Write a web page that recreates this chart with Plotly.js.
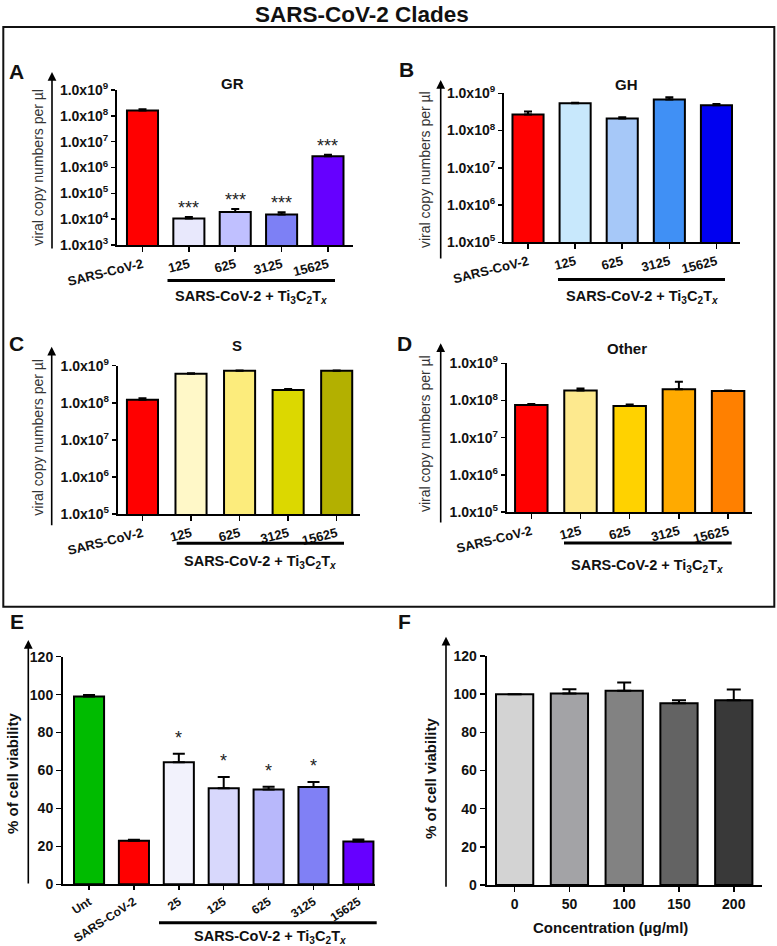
<!DOCTYPE html>
<html><head><meta charset="utf-8">
<script src="https://cdn.plot.ly/plotly-3.0.1.min.js"></script>
<style>html,body{margin:0;padding:0;background:#fff}#chart{width:777px;height:946px}</style>
</head><body><div id="chart"></div>
<script>
// ---------- data ----------
const cladeCategories = ["SARS-CoV-2", "125", "625", "3125", "15625"];
const grValues = [1.6e8, 1.05e4, 1.9e4, 1.5e4, 2.7e6];
const grErrors = [2.0e7, 1.5e3, 5.7e3, 3.4e3, 4.4e5];
const grSignif = ["", "***", "***", "***", "***"];
const ghValues = [2.7e8, 5.4e8, 2.1e8, 6.8e8, 4.8e8];
const ghErrors = [5.4e7, 2.0e7, 1.8e7, 1.0e8, 4.0e7];
const sValues = [1.2e8, 6.1e8, 7.3e8, 2.2e8, 7.3e8];
const sErrors = [1.3e7, 1.5e7, 1.5e7, 1.5e7, 1.5e7];
const otherValues = [7.5e7, 1.85e8, 7.1e7, 2.0e8, 1.8e8];
const otherErrors = [6e6, 2.4e7, 7.5e6, 1.2e8, 5e6];
const viabilityCategories = ["Unt", "SARS-CoV-2", "25", "125", "625", "3125", "15625"];
const viabilityValues = [99, 23, 64.3, 50.6, 50, 51.3, 22.5];
const viabilityErrors = [0.8, 0.5, 4.5, 6.0, 1.4, 2.7, 1.1];
const viabilitySignif = ["", "", "*", "*", "*", "*", ""];
const concCategories = ["0", "50", "100", "150", "200"];
const concValues = [100, 100.3, 101.8, 95.2, 96.8];
const concErrors = [0, 2.3, 4.3, 1.6, 5.6];

const logTickVals = [1e3, 1e4, 1e5, 1e6, 1e7, 1e8, 1e9];
const logTickText = ["1.0x10<sup>3</sup>", "1.0x10<sup>4</sup>", "1.0x10<sup>5</sup>", "1.0x10<sup>6</sup>", "1.0x10<sup>7</sup>", "1.0x10<sup>8</sup>", "1.0x10<sup>9</sup>"];
const linTickVals = [0, 20, 40, 60, 80, 100, 120];

// ---------- styles ----------
const grColors = ["#ff0000", "#e8e8fc", "#c0c0ff", "#7d80f5", "#6600ff"];
const ghColors = ["#ff0000", "#c8e8fc", "#a6c8f8", "#4090f5", "#0000f0"];
const sColors = ["#ff0000", "#fff8c8", "#fcec7c", "#dcd800", "#b3b000"];
const otherColors = ["#ff0000", "#fde98e", "#ffd200", "#ffaa00", "#ff8000"];
const viabilityColors = ["#00bb00", "#ff0000", "#f2f2fc", "#d8d8fc", "#b8b8fb", "#8080f5", "#6600ff"];
const concColors = ["#d3d3d3", "#a3a3a6", "#828282", "#636363", "#393939"];

const FONT = "Liberation Sans, Arial, Helvetica, sans-serif";
const W = 777, H = 946;
const X = px => px / W;
const Y = py => 1 - py / H;

function barTrace(cats, vals, errs, colors, xa, ya, width, capw) {
  return {
    type: "bar", x: cats, y: vals, xaxis: xa, yaxis: ya, width: width,
    marker: {color: colors, line: {color: "#000", width: 2}},
    error_y: {type: "data", symmetric: false, array: errs, arrayminus: errs.map(() => 0),
              color: "#000", thickness: 2, width: capw, visible: true},
    showlegend: false, hoverinfo: "skip"
  };
}

const data = [
  barTrace(cladeCategories, grValues, grErrors, grColors, "x", "y", 0.67, 4),
  barTrace(cladeCategories, ghValues, ghErrors, ghColors, "x2", "y2", 0.66, 4),
  barTrace(cladeCategories, sValues, sErrors, sColors, "x3", "y3", 0.64, 4),
  barTrace(cladeCategories, otherValues, otherErrors, otherColors, "x4", "y4", 0.66, 4),
  barTrace(viabilityCategories, viabilityValues, viabilityErrors, viabilityColors, "x5", "y5", 0.67, 6),
  barTrace(concCategories, concValues, concErrors, concColors, "x6", "y6", 0.68, 7)
];

function xax(dom, anchor, range, angle, size, tlen) {
  return {domain: dom, anchor: anchor, type: "category", range: range, showline: true, linewidth: 2, linecolor: "#000",
          ticks: "outside", ticklen: tlen || 5, tickwidth: 1.5, tickcolor: "#000", tickangle: angle,
          tickfont: {family: FONT, size: size || 13, color: "#111", weight: 700},
          showgrid: false, zeroline: false, fixedrange: true};
}
function yaxLog(dom, anchor, lo) {
  return {domain: dom, anchor: anchor, type: "log", range: [lo, 9], tickvals: logTickVals, ticktext: logTickText,
          showline: true, linewidth: 2, linecolor: "#000", ticks: "outside", ticklen: 4, tickwidth: 1.5, tickcolor: "#000",
          tickfont: {family: FONT, size: 14, color: "#111", weight: 700},
          showgrid: false, zeroline: false, fixedrange: true};
}
function yaxLin(dom, anchor) {
  return {domain: dom, anchor: anchor, range: [0, 120], tickvals: linTickVals,
          showline: true, linewidth: 2, linecolor: "#000", ticks: "outside", ticklen: 5, tickwidth: 1.5, tickcolor: "#000",
          tickfont: {family: FONT, size: 14, color: "#111", weight: 700},
          showgrid: false, zeroline: false, fixedrange: true};
}

const layout = {
  width: W, height: H, autosize: false, margin: {l: 0, r: 0, t: 0, b: 0},
  paper_bgcolor: "#fff", plot_bgcolor: "#fff", showlegend: false, bargap: 0,
  font: {family: FONT},
  xaxis: xax([X(117), X(353)], "y", [-0.55, 4.54], -14),
  yaxis: yaxLog([Y(245), Y(90)], "x", 3),
  xaxis2: xax([X(504), X(740)], "y2", [-0.51, 4.5], -14),
  yaxis2: yaxLog([Y(242.3), Y(93.3)], "x2", 5),
  xaxis3: xax([X(117.7), X(360)], "y3", [-0.51, 4.48], -14),
  yaxis3: yaxLog([Y(514), Y(365.7)], "x3", 5),
  xaxis4: xax([X(506.7), X(751.7)], "y4", [-0.5, 4.48], -14),
  yaxis4: yaxLog([Y(512), Y(363.3)], "x4", 5),
  xaxis5: xax([X(63), X(375)], "y5", [-0.58, 6.37], -33, 12, 4),
  yaxis5: yaxLin([Y(884.3), Y(656.7)], "x5"),
  xaxis6: xax([X(486.7), X(761.7)], "y6", [-0.51, 4.51], 0, 14),
  yaxis6: yaxLin([Y(885), Y(656)], "x6"),
  shapes: [
    {type: "rect", xref: "paper", yref: "paper", x0: X(3.3), x1: X(774.3), y0: Y(606.7), y1: Y(27), line: {color: "#111", width: 2}},
    {type: "line", xref: "paper", yref: "paper", x0: X(167.5), x1: X(335), y0: Y(280.5), y1: Y(280.5), line: {color: "#000", width: 3}},
    {type: "line", xref: "paper", yref: "paper", x0: X(558), x1: X(725), y0: Y(279.5), y1: Y(279.5), line: {color: "#000", width: 3}},
    {type: "line", xref: "paper", yref: "paper", x0: X(176.7), x1: X(344), y0: Y(543.3), y1: Y(543.3), line: {color: "#000", width: 3}},
    {type: "line", xref: "paper", yref: "paper", x0: X(564), x1: X(731.7), y0: Y(543), y1: Y(543), line: {color: "#000", width: 3}},
    {type: "line", xref: "paper", yref: "paper", x0: X(159), x1: X(376.7), y0: Y(922.7), y1: Y(922.7), line: {color: "#000", width: 3}}
  ],
  annotations: []
};

function txt(text, px, py, size, opts) {
  return Object.assign({text: text, xref: "paper", yref: "paper", x: X(px), y: Y(py), xanchor: "center", yanchor: "middle",
    showarrow: false, font: {family: FONT, size: size, color: "#111", weight: 700}}, opts || {});
}
function arrow(px, pyTop, pyBottom) {
  return {text: "", xref: "paper", yref: "paper", x: X(px), y: Y(pyTop), ax: 0, ay: pyBottom - pyTop,
    showarrow: true, arrowhead: 2, arrowsize: 1.1, arrowwidth: 1.6, arrowcolor: "#000"};
}
function signif(vals, errs, labels, xa, ya, isLog, size, shift) {
  const out = [];
  labels.forEach((lab, i) => {
    if (!lab) return;
    const top = vals[i] + errs[i];
    out.push({text: lab, xref: xa, yref: ya, x: i, y: isLog ? Math.log10(top) : top,
      xanchor: "center", yanchor: "bottom", yshift: shift, showarrow: false,
      font: {family: FONT, size: size, color: "#222"}});
  });
  return out;
}
const groupLabel = "SARS-CoV-2 + Ti<sub>3</sub>C<sub>2</sub>T<sub><i>x</i></sub>";
const viralTitle = "viral copy numbers per µl";
const viralFont = {family: FONT, size: 14, color: "#333", weight: 400};

layout.annotations.push(
  txt("SARS-CoV-2 Clades", 362, 0, 22.5, {yanchor: "top", y: 0.9995}),
  txt("A", 16.7, 72, 21), txt("B", 406.7, 70, 21), txt("C", 16.7, 343.3, 21), txt("D", 405, 343.3, 21),
  txt("E", 16.7, 621.7, 21), txt("F", 405, 621.7, 21),
  txt("GR", 233, 83, 15), txt("GH", 626.7, 84.3, 15), txt("S", 236.7, 345, 15), txt("Other", 626.7, 348.3, 15),
  txt(viralTitle, 37.7, 167, 14, {textangle: -90, font: viralFont}),
  txt(viralTitle, 425, 170, 14, {textangle: -90, font: viralFont}),
  txt(viralTitle, 37.7, 437, 14, {textangle: -90, font: viralFont}),
  txt(viralTitle, 425, 434, 14, {textangle: -90, font: viralFont}),
  txt("% of cell viability", 12, 773, 15, {textangle: -90}),
  txt("% of cell viability", 430, 778, 15, {textangle: -90}),
  txt("Concentration (µg/ml)", 610, 927.7, 15),
  txt(groupLabel, 251, 297.5, 14.5), txt(groupLabel, 642, 297, 14.5),
  txt(groupLabel, 260, 561.5, 14.5), txt(groupLabel, 647, 565.5, 14.5),
  txt(groupLabel, 270, 936.5, 14.5),
  arrow(52, 72, 250), arrow(440.7, 80, 260), arrow(51.7, 346.7, 526.7), arrow(440.7, 343.3, 524),
  arrow(28.3, 640, 885), arrow(446, 636.7, 888.3)
);
signif(grValues, grErrors, grSignif, "x", "y", true, 18, -3).forEach(a => layout.annotations.push(a));
signif(viabilityValues, viabilityErrors, viabilitySignif, "x5", "y5", false, 18, 4).forEach(a => layout.annotations.push(a));

Plotly.newPlot("chart", data, layout, {staticPlot: true, displayModeBar: false});
</script>
</body></html>
